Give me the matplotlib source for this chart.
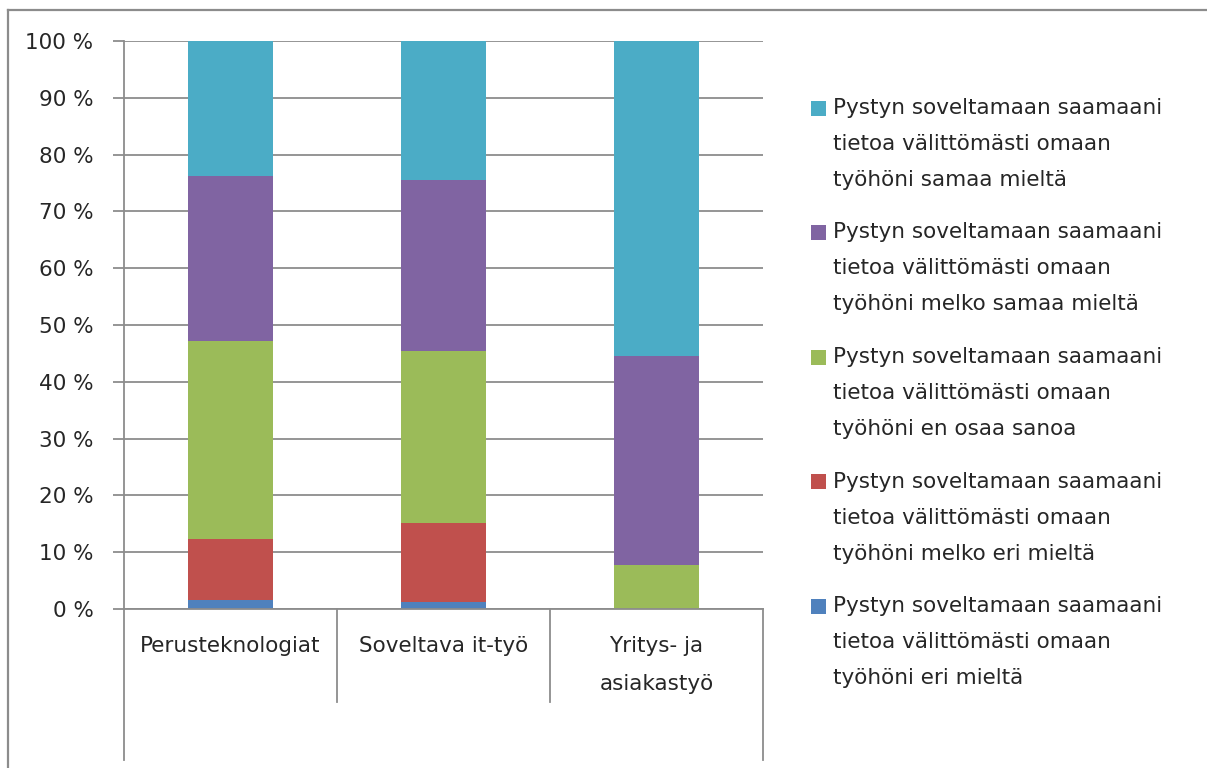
import matplotlib
matplotlib.use("Agg")
import matplotlib.pyplot as plt
from matplotlib.lines import Line2D
from matplotlib.patches import Rectangle
import numpy as np

plt.rcParams['font.family'] = ['DejaVu Sans']

categories = ["Perusteknologiat", "Soveltava it-työ", "Yritys- ja\nasiakastyö"]
series_names = [
    "Pystyn soveltamaan saamaani\ntietoa välittömästi omaan\ntyöhöni eri mieltä",
    "Pystyn soveltamaan saamaani\ntietoa välittömästi omaan\ntyöhöni melko eri mieltä",
    "Pystyn soveltamaan saamaani\ntietoa välittömästi omaan\ntyöhöni en osaa sanoa",
    "Pystyn soveltamaan saamaani\ntietoa välittömästi omaan\ntyöhöni melko samaa mieltä",
    "Pystyn soveltamaan saamaani\ntietoa välittömästi omaan\ntyöhöni samaa mieltä",
]
eri_mielta = [1.6, 1.2, 0.0]
melko_eri = [10.8, 13.9, 0.0]
en_osaa = [34.8, 30.4, 7.8]
melko_samaa = [29.1, 30.1, 36.8]
samaa = [23.7, 24.4, 55.4]
values = [eri_mielta, melko_eri, en_osaa, melko_samaa, samaa]
colors = ["#4F81BD", "#C0504D", "#9BBB59", "#8064A2", "#4BACC6"]
yticks = [0, 10, 20, 30, 40, 50, 60, 70, 80, 90, 100]
ytick_labels = [f"{v} %" for v in yticks]

FS = 15.5
TXT = "#262626"
W, H = 1207, 768
fig = plt.figure(figsize=(W / 100, H / 100), dpi=100)
ax = fig.add_axes([124 / W, 159 / H, (763 - 124) / W, 568 / H])

x = np.arange(len(categories))
bottom = np.zeros(len(categories))
for vals, col in zip(values, colors):
    ax.bar(x, vals, bottom=bottom, width=0.4, color=col, zorder=3)
    bottom += np.array(vals)

ax.set_xlim(-0.5, len(categories) - 0.5)
ax.set_ylim(0, 100)
ax.set_yticks(yticks)
ax.set_yticklabels(ytick_labels, fontsize=FS, color=TXT)
ax.set_xticks([])
ax.grid(axis="y", color="#8c8c8c", linewidth=1.3, zorder=0)
for s in ["top", "right", "bottom"]:
    ax.spines[s].set_visible(False)
ax.spines["left"].set_color("#8c8c8c")
ax.spines["left"].set_linewidth(1.3)
ax.tick_params(axis="y", length=8, width=1.3, color="#8c8c8c", pad=14)

gray = "#8c8c8c"
def fline(x0, y0, x1, y1, lw=1.3):
    fig.add_artist(Line2D([x0 / W, x1 / W], [1 - y0 / H, 1 - y1 / H],
                          color=gray, linewidth=lw, transform=fig.transFigure))

# category axis: baseline and separators
fline(124, 609, 763, 609)
fline(124, 609, 124, 760)
fline(337, 609, 337, 702)
fline(550, 609, 550, 702)
fline(763, 609, 763, 760)
# outer frame (top and left)
fline(8, 10, W, 10, lw=1.6)
fline(8, 10, 8, H, lw=1.6)

for xi, lab in zip(x, categories):
    ax.text(xi, -27 / 568 * 100, lab, ha="center", va="top", fontsize=FS,
            color=TXT, linespacing=2.15)

# legend (reverse order: top entry is last series), handle aligned to first line
for i, (name, col) in enumerate(zip(series_names[::-1], colors[::-1])):
    y_first = 108 + i * 124.5
    fig.add_artist(Rectangle((811 / W, 1 - (y_first + 7.5) / H), 15 / W, 15 / H,
                             facecolor=col, edgecolor="none",
                             transform=fig.transFigure))
    fig.text(833 / W, 1 - (y_first - 10) / H, name, ha="left", va="top",
             fontsize=FS, color=TXT, linespacing=2.0)

fig.savefig("out.png", dpi=100, facecolor="white")
